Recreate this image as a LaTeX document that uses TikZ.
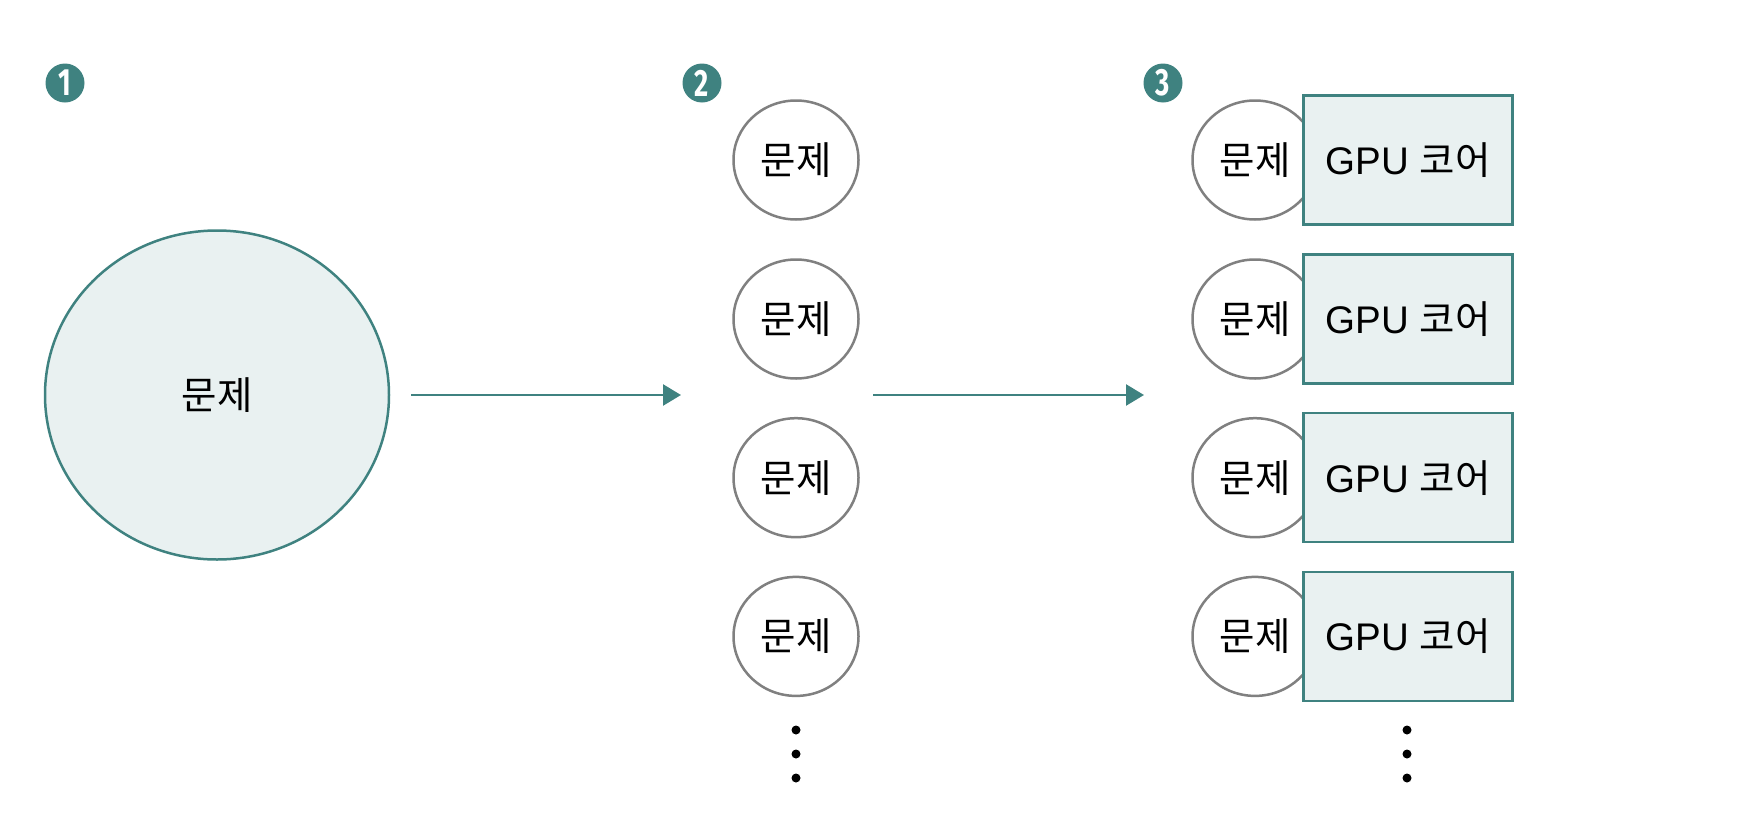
\documentclass[tikz,border=0pt]{standalone}
\usepackage{fontspec}
\setmainfont{Liberation Sans}
\newfontfamily\krfont{Noto Sans CJK KR}
\newfontfamily\numfont{Fira Sans}
\usetikzlibrary{shapes.geometric,arrows.meta}
\definecolor{teal1}{HTML}{3F8280}
\definecolor{pale}{HTML}{E9F1F1}
\definecolor{gray1}{HTML}{808080}
\newcommand{\kr}[1]{{\krfont #1}}
\tikzset{
  x=1pt,y=-1pt,
  bigc/.style={ellipse,draw=teal1,fill=pale,line width=2.5pt,minimum width=344pt,minimum height=329pt,inner sep=0pt,font=\fontsize{38.5}{42}\selectfont},
  smallc/.style={ellipse,draw=gray1,fill=white,line width=2.5pt,minimum width=125pt,minimum height=119pt,inner sep=0pt,font=\fontsize{38.5}{42}\selectfont},
  corebox/.style={rectangle,draw=teal1,fill=pale,line width=2.5pt,minimum width=209pt,minimum height=129pt,inner sep=0pt,font=\fontsize{38.5}{42}\selectfont},
  badge/.style={circle,fill=teal1,text=white,minimum size=39pt,inner sep=0pt,font=\fontsize{38}{38}\selectfont\bfseries\numfont},
  vdot/.style={circle,fill=black,minimum size=9pt,inner sep=0pt},
  flow/.style={draw=teal1,line width=2.5pt,-{Triangle[length=18pt,width=21pt,fill=teal1]}}
}
\begin{document}
\begin{tikzpicture}
\useasboundingbox (0,0) rectangle (1740,838);
\node[badge] (b1) at (65,83) {\scalebox{0.72}[1]{1}};
\node[badge] (b2) at (702,83) {\scalebox{0.72}[1]{2}};
\node[badge] (b3) at (1163,83) {\scalebox{0.72}[1]{3}};
\node[bigc] (big) at (217,395) {\kr{문제}};
\foreach \n/\y in {1/160,2/319,3/477.7,4/636.4}{
  \node[smallc] (p\n) at (796,\y) {\kr{문제}};
  \node[smallc] (q\n) at (1255,\y) {\kr{문제}};
  \node[corebox] (g\n) at (1408,\y) {GPU \kr{코어}};
}
\node[vdot] (d1) at (796,730) {};
\node[vdot] (d2) at (796,754) {};
\node[vdot] (d3) at (796,778) {};
\node[vdot] (e1) at (1407,730) {};
\node[vdot] (e2) at (1407,754) {};
\node[vdot] (e3) at (1407,778) {};
\coordinate (s1) at (411,395);
\coordinate (t1) at (681,395);
\coordinate (s2) at (873,395);
\coordinate (t2) at (1144,395);
\draw[flow] (s1) -- (t1);
\draw[flow] (s2) -- (t2);
\end{tikzpicture}
\end{document}
